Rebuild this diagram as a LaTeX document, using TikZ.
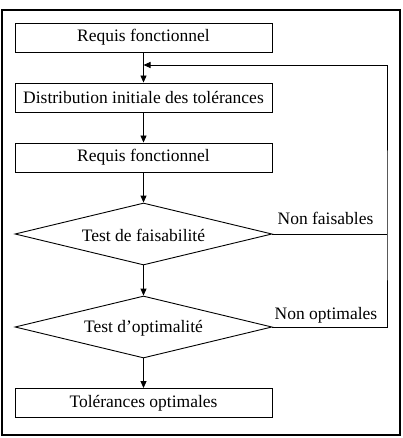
\documentclass[tikz,border=0pt]{standalone}
\usepackage{fontspec}
\setmainfont{Liberation Serif}
\usetikzlibrary{arrows.meta,shapes.geometric}
\begin{document}
\begin{tikzpicture}[x=1pt,y=-1pt,
  every node/.style={font=\fontsize{17.5}{20}\selectfont},
  box/.style={draw,line width=0.9pt,minimum width=257pt,minimum height=29pt,inner sep=0pt},
  dia/.style={draw,line width=0.9pt,diamond,aspect=4.15,minimum width=257pt,minimum height=62pt,inner sep=0pt},
  flow/.style={line width=0.9pt,-{Triangle[length=7pt,width=6pt]}},
  link/.style={line width=0.9pt}]
\useasboundingbox (0,0) rectangle (402,438);
\draw[line width=1.4pt] (2,10) rectangle (400,435);
\node[box] (b1) at (143.5,37.5) {Requis fonctionnel};
\node[box] (b2) at (143.5,97.5) {Distribution initiale des tolérances};
\node[box] (b3) at (143.5,157.5) {Requis fonctionnel};
\node[dia] (d1) at (143.5,234) {};
\node (t1) at (143.5,235) {Test de faisabilité};
\node[dia] (d2) at (143.5,327) {};
\node (t2) at (143.5,328) {Test d’optimalité};
\node[box] (b4) at (143.5,403) {Tolérances optimales};
\coordinate (m) at (143.5,65);
\coordinate (r1) at (387,234);
\coordinate (r2) at (387,327);
\coordinate (rt) at (387,65);
\draw[flow] (b1) -- (b2);
\draw[flow] (b2) -- (b3);
\draw[flow] (b3) -- (d1);
\draw[flow] (d1) -- (d2);
\draw[flow] (d2) -- (b4);
\draw[link] (d1.east) -- (r1);
\draw[link] (d2.east) -- (r2) -- (r1) -- (rt);
\draw[flow] (rt) -- (m);
\node[anchor=base] (nf) at (325.5,224) {Non faisables};
\node[anchor=base] (no) at (326,319) {Non optimales};
\end{tikzpicture}
\end{document}
